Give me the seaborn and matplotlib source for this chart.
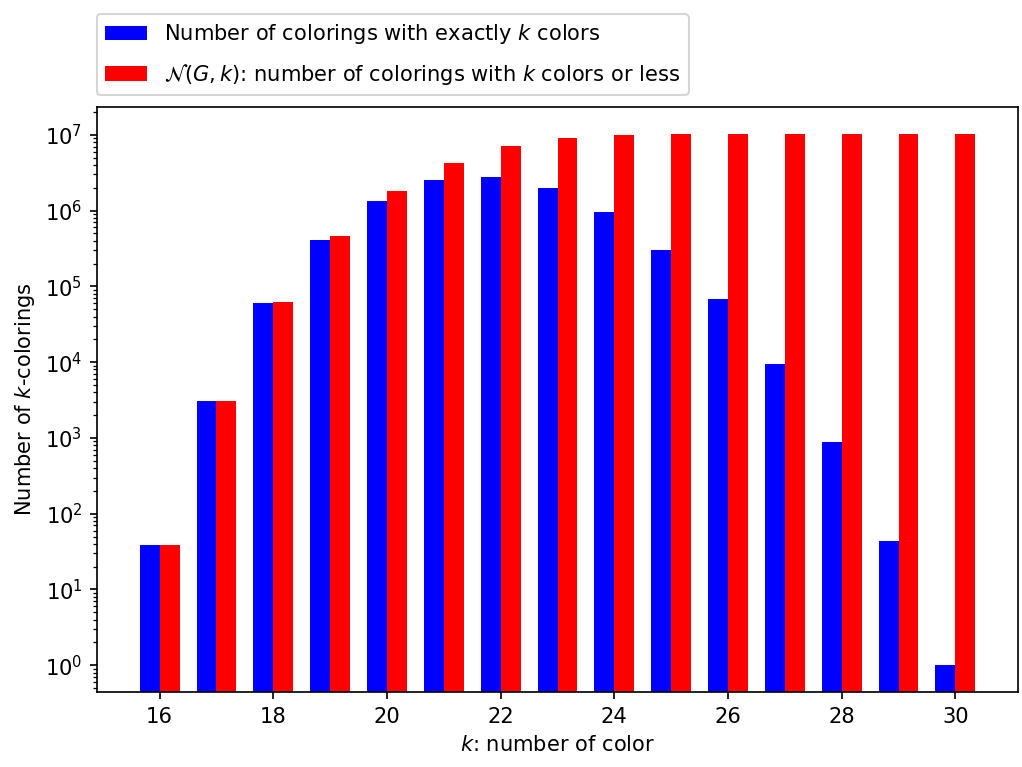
import matplotlib
matplotlib.use("Agg")
import matplotlib.pyplot as plt
import seaborn as sns
import pandas as pd

# values (log scale)
k_values = list(range(16, 31))
exactly_k = [39, 3070, 59700, 404000, 1320000, 2500000, 2740000, 2000000,
             967000, 305000, 68800, 9550, 894, 44, 1]
at_most_k = [39, 3110, 62800, 467000, 1790000, 4290000, 7030000, 9030000,
             10000000, 10300000, 10370000, 10380000, 10380000, 10380000, 10380000]

label_exact = r"Number of colorings with exactly $k$ colors"
label_cum = r"$\mathcal{N}(G, k)$: number of colorings with $k$ colors or less"

DPI = 151


def build_df():
    df_exact = pd.DataFrame({"k": k_values, "count": exactly_k, "series": label_exact})
    df_cum = pd.DataFrame({"k": k_values, "count": at_most_k, "series": label_cum})
    return pd.concat([df_exact, df_cum], ignore_index=True)


def main():
    df = build_df()
    fig, ax = plt.subplots(figsize=(1022 / DPI, 767 / DPI), dpi=DPI)
    fig.subplots_adjust(left=0.095, right=0.996, top=0.8605, bottom=0.098)
    ax.set_yscale("log")

    sns.barplot(
        data=df,
        x="k",
        y="count",
        hue="series",
        palette={label_exact: "blue", label_cum: "red"},
        native_scale=True,
        width=0.7,
        saturation=1,
        linewidth=0,
        errorbar=None,
        ax=ax,
    )

    ax.set_xlabel(r"$k$: number of color")
    ax.set_ylabel(r"Number of $k$-colorings")
    ax.set_xticks(range(16, 31, 2))
    ax.set_xlim(14.9, 31.1)
    sns.move_legend(
        ax, "lower left", bbox_to_anchor=(0, 1.02), borderaxespad=0,
        title=None, labelspacing=0.75,
    )
    fig.savefig("out.png", dpi=DPI)


if __name__ == "__main__":
    main()
